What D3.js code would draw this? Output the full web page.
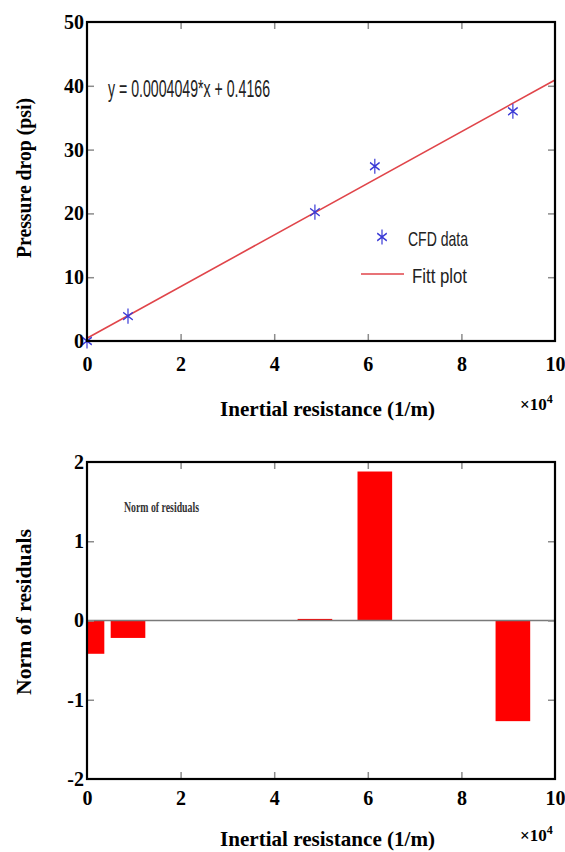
<!doctype html>
<html>
<meta charset="utf-8">
<style>
body { margin: 0; padding: 0; background: #fff; }
svg text { font-family: 'Liberation Serif', 'Times New Roman', serif; }
.title { font-size: 21px; font-weight: bold; }
.inner .tick line { stroke: #8c8c8c; stroke-width: 1.5; }
svg text.sans { font-family: 'Liberation Sans Narrow', 'Liberation Sans', Arial, sans-serif; }
</style>
<body>
<svg width="565" height="852"></svg>
<script src="https://cdn.jsdelivr.net/npm/d3@7"></script>
<script>

// x values are in units of 10^4 (1/m)
var xTicks = [0, 2, 4, 6, 8, 10];
var pressureTicks = [0, 10, 20, 30, 40, 50];
var residualTicks = [-2, -1, 0, 1, 2];

// CFD data points (pressure drop, psi)
var cfdX = [0, 0.876, 4.87, 6.15, 9.1];
var cfdY = [0, 3.9, 20.2, 27.4, 36.0];

// fitted line end points: y = 0.0004049*x + 0.4166
var fitX = [0, 10];
var fitY = [0.42, 40.91];

// residuals of the fit
var residualX = [0, 0.876, 4.87, 6.15, 9.1];
var residuals = [-0.42, -0.22, 0.02, 1.88, -1.27];

var svg = d3.select("svg");

var left = 87, right = 555;
var fmt = function(d) { return String(d); };

function styleLabels(s) {
  s.select(".domain").remove();
  s.attr("font-family", null).attr("font-size", null);
  s.selectAll("text")
      .style("font-family", "'Liberation Serif', 'Times New Roman', serif")
      .style("font-size", "20px").style("font-weight", "bold").attr("fill", "#000");
}

function drawAxes(g, x, y, yVals, top, bottom, labelPad) {
  // tick labels
  g.append("g")
      .attr("transform", "translate(0," + bottom + ")")
      .call(d3.axisBottom(x).tickValues(xTicks).tickSize(0).tickPadding(labelPad).tickFormat(fmt))
      .call(styleLabels);
  g.append("g")
      .attr("transform", "translate(" + left + ",0)")
      .call(d3.axisLeft(y).tickValues(yVals).tickSize(0).tickPadding(3).tickFormat(fmt))
      .call(styleLabels);

  // little gray ticks inside the box
  var inner = xTicks.slice(1, -1), innerY = yVals.slice(1, -1);
  g.append("g").attr("class", "inner").attr("transform", "translate(0," + bottom + ")")
      .call(d3.axisBottom(x).tickValues(inner).tickSize(-7).tickFormat(""));
  g.append("g").attr("class", "inner").attr("transform", "translate(0," + top + ")")
      .call(d3.axisTop(x).tickValues(inner).tickSize(-7).tickFormat(""));
  g.append("g").attr("class", "inner").attr("transform", "translate(" + left + ",0)")
      .call(d3.axisLeft(y).tickValues(innerY).tickSize(-7).tickFormat(""));
  g.append("g").attr("class", "inner").attr("transform", "translate(" + right + ",0)")
      .call(d3.axisRight(y).tickValues(innerY).tickSize(-7).tickFormat(""));
  g.selectAll(".inner .domain").remove();

  // box
  g.append("rect")
      .attr("x", left).attr("y", top)
      .attr("width", right - left).attr("height", bottom - top)
      .attr("fill", "none").attr("stroke", "#000").attr("stroke-width", 2.2);
}

function xLabel(yPos, expY) {
  svg.append("text").attr("class", "title")
      .attr("x", 220).attr("y", yPos)
      .attr("textLength", 215).attr("lengthAdjust", "spacingAndGlyphs")
      .text("Inertial resistance (1/m)");
  var t = svg.append("text").attr("x", 520).attr("y", expY)
      .style("font-size", "17px").style("font-weight", "bold");
  t.append("tspan").text("\u00d710");
  t.append("tspan").attr("dy", -7).style("font-size", "12px").text("4");
}

function yLabel(cy, len, txt) {
  svg.append("text").attr("class", "title")
      .attr("transform", "translate(31," + (cy + len / 2) + ") rotate(-90)")
      .attr("textLength", len).attr("lengthAdjust", "spacingAndGlyphs")
      .text(txt);
}

// ---------- top plot ----------
var top1 = 22, bottom1 = 341;
var x1 = d3.scaleLinear().domain([0, 10]).range([left, right]);
var y1 = d3.scaleLinear().domain([0, 50]).range([bottom1, top1]);
var g1 = svg.append("g");

g1.append("path")
    .datum(d3.zip(fitX, fitY))
    .attr("fill", "none").attr("stroke", "#e0454a").attr("stroke-width", 1.6)
    .attr("d", d3.line().x(function(d) { return x1(d[0]); }).y(function(d) { return y1(d[1]); }));

var star = d3.symbol().type(d3.symbolAsterisk).size(120);
g1.selectAll(".pt").data(d3.zip(cfdX, cfdY)).enter().append("path")
    .attr("transform", function(d) { return "translate(" + x1(d[0]) + "," + y1(d[1]) + ") scale(0.85,1.15)"; })
    .attr("d", star).attr("fill", "none").attr("stroke", "#3a3ad6").attr("stroke-width", 1.4);

drawAxes(g1, x1, y1, pressureTicks, top1, bottom1, 16);

g1.append("text").attr("class", "sans")
    .attr("x", 108).attr("y", 97)
    .attr("textLength", 162).attr("lengthAdjust", "spacingAndGlyphs")
    .style("font-size", "23px").attr("fill", "#222")
    .text("y = 0.0004049*x + 0.4166");

// legend
g1.append("path").attr("transform", "translate(382,237) scale(0.85,1.15)")
    .attr("d", star).attr("fill", "none").attr("stroke", "#3a3ad6").attr("stroke-width", 1.4);
g1.append("text").attr("class", "sans").attr("x", 408).attr("y", 246)
    .attr("textLength", 60).attr("lengthAdjust", "spacingAndGlyphs")
    .style("font-size", "21px").attr("fill", "#222").text("CFD data");
g1.append("line").attr("x1", 361).attr("x2", 404).attr("y1", 274).attr("y2", 274)
    .attr("stroke", "#e0454a").attr("stroke-width", 1.6);
g1.append("text").attr("class", "sans").attr("x", 412).attr("y", 283)
    .attr("textLength", 55).attr("lengthAdjust", "spacingAndGlyphs")
    .style("font-size", "21px").attr("fill", "#222").text("Fitt plot");

yLabel(178, 160, "Pressure drop (psi)");
xLabel(416, 410);

// ---------- bottom plot ----------
var top2 = 462, bottom2 = 779;
var x2 = d3.scaleLinear().domain([0, 10]).range([left, right]);
var y2 = d3.scaleLinear().domain([-2, 2]).range([bottom2, top2]);
var g2 = svg.append("g");
var barW = 0.74;

g2.append("clipPath").attr("id", "clip2").append("rect")
    .attr("x", left).attr("y", top2).attr("width", right - left).attr("height", bottom2 - top2);

g2.append("g").attr("clip-path", "url(#clip2)")
  .selectAll("rect").data(d3.zip(residualX, residuals)).enter().append("rect")
    .attr("x", function(d) { return x2(d[0] - barW / 2); })
    .attr("width", x2(barW) - x2(0))
    .attr("y", function(d) { return y2(Math.max(0, d[1])); })
    .attr("height", function(d) { return Math.abs(y2(d[1]) - y2(0)); })
    .attr("fill", "#ff0000");

g2.append("line")
    .attr("x1", left).attr("x2", right).attr("y1", y2(0)).attr("y2", y2(0))
    .attr("stroke", "#7a7a7a").attr("stroke-width", 1.5);

drawAxes(g2, x2, y2, residualTicks, top2, bottom2, 12);

g2.append("text").attr("x", 124).attr("y", 512)
    .attr("textLength", 75).attr("lengthAdjust", "spacingAndGlyphs")
    .style("font-size", "14px").style("font-weight", "bold").attr("fill", "#333")
    .text("Norm of residuals");

yLabel(612, 166, "Norm of residuals");
xLabel(846, 841);

</script>
</body>
</html>
